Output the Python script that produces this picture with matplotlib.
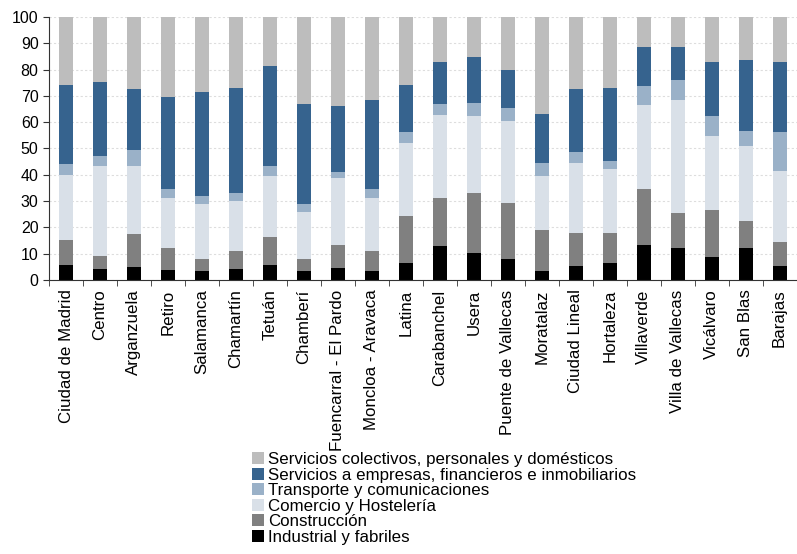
import numpy as np
import matplotlib
matplotlib.use("Agg")
import matplotlib.pyplot as plt

plt.rcParams['font.family'] = ['Liberation Sans', 'DejaVu Sans']

# distritos
distritos = ["Ciudad de Madrid", "Centro", "Arganzuela", "Retiro", "Salamanca",
             "Chamartín", "Tetuán", "Chamberí", "Fuencarral - El Pardo",
             "Moncloa - Aravaca", "Latina", "Carabanchel", "Usera",
             "Puente de Vallecas", "Moratalaz", "Ciudad Lineal", "Hortaleza",
             "Villaverde", "Villa de Vallecas", "Vicálvaro", "San Blas", "Barajas"]

# porcentajes por sector (de abajo a arriba)
industrial = [5.6, 4.1, 4.9, 3.7, 3.3, 4.1, 5.6, 3.3, 4.4, 3.3, 6.3,
              12.8, 10.1, 7.8, 3.3, 5.2, 6.3, 13.2, 12.0, 8.6, 12.0, 5.2]
construccion = [9.6, 4.9, 12.4, 8.5, 4.5, 6.8, 10.6, 4.5, 8.8, 7.6, 17.9,
                18.2, 22.8, 21.3, 15.6, 12.5, 11.4, 21.2, 13.3, 17.9, 10.3, 9.1]
comercio = [24.7, 34.2, 26.2, 18.8, 21.1, 19.0, 23.2, 17.9, 25.4, 20.1, 27.7,
            31.9, 29.3, 31.5, 20.5, 26.6, 24.3, 32.3, 43.3, 28.4, 28.8, 27.0]
transporte = [4.0, 4.1, 6.1, 3.4, 2.9, 3.0, 3.8, 3.0, 2.3, 3.4, 4.2,
              4.2, 5.3, 5.0, 4.9, 4.2, 3.4, 7.2, 7.6, 7.3, 5.7, 14.8]
empresas = [30.4, 28.1, 23.2, 35.3, 39.8, 40.3, 38.3, 38.4, 25.4, 34.2, 18.2,
            15.9, 17.4, 14.4, 19.0, 24.3, 27.8, 14.8, 12.5, 20.8, 27.0, 26.9]
colectivos = [25.7, 24.6, 27.2, 30.3, 28.4, 26.8, 18.5, 32.9, 33.7, 31.4, 25.7,
              17.0, 15.1, 20.0, 36.7, 27.2, 26.8, 11.3, 11.3, 17.0, 16.2, 17.0]

series = [
    ("Industrial y fabriles", industrial, "#000000"),
    ("Construcción", construccion, "#808080"),
    ("Comercio y Hostelería", comercio, "#D9E0E8"),
    ("Transporte y comunicaciones", transporte, "#9AB1C8"),
    ("Servicios a empresas, financieros e inmobiliarios", empresas, "#36638E"),
    ("Servicios colectivos, personales y domésticos", colectivos, "#BDBDBD"),
]

fig = plt.figure(figsize=(7.97, 5.54), dpi=100)
ax = fig.add_axes([0.0615, 0.495, 0.938, 0.474])

x = np.arange(len(distritos))
base = np.zeros(len(distritos))
handles = []
for nombre, vals, col in series:
    b = ax.bar(x, vals, 0.41, bottom=base, color=col, label=nombre, zorder=2)
    handles.append(b)
    base += np.array(vals)

ax.set_xlim(-0.5, len(distritos) - 0.5)
ax.set_ylim(0, 100)
ax.set_yticks(range(0, 101, 10))
ax.yaxis.grid(True, color="#DDDDDD", linestyle=(0, (2, 2)), linewidth=0.8, zorder=0)

ax.set_xticks(x)
ax.set_xticklabels(distritos, rotation=90, fontsize=12.2)
ax.set_xticks(np.arange(-0.5, len(distritos), 1), minor=True)
ax.tick_params(axis="x", which="major", length=0, pad=7)
ax.tick_params(axis="x", which="minor", length=4, direction="out", color="#333333")
ax.tick_params(axis="y", labelsize=11.5, length=4, color="#333333")

for s in ["top", "right"]:
    ax.spines[s].set_visible(False)
for s in ["left", "bottom"]:
    ax.spines[s].set_color("#333333")

fig.legend(handles[::-1], [h.get_label() for h in handles[::-1]],
           loc="upper left", bbox_to_anchor=(252 / 797, 1 - 452 / 554),
           frameon=False, fontsize=12.2, handlelength=0.7, handleheight=0.7,
           labelspacing=0.03, handletextpad=0.25, borderpad=0, borderaxespad=0)

fig.savefig("out.png", dpi=100)
